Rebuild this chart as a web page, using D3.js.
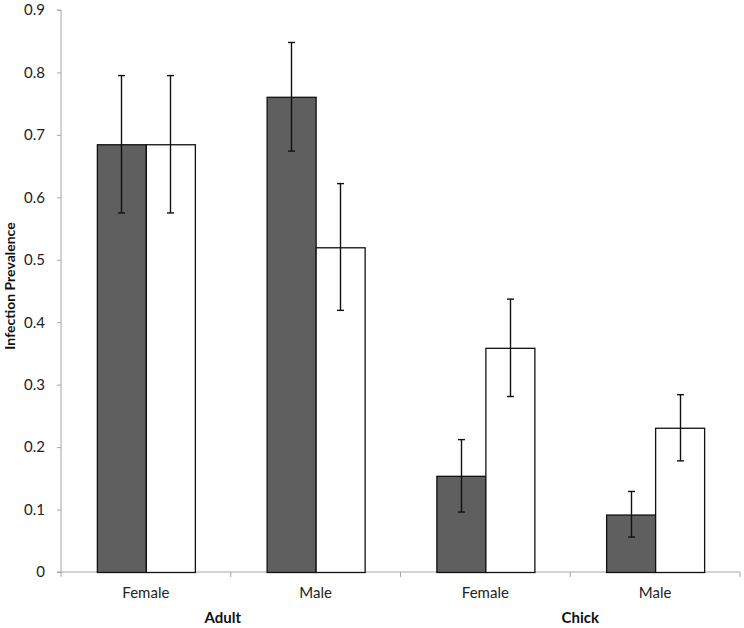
<!DOCTYPE html>
<html><head><meta charset="utf-8">
<script src="https://cdn.jsdelivr.net/npm/d3@7"></script>
<style>body{margin:0;background:#fff}svg{display:block}text{font-family:Lato,"Open Sans",sans-serif}</style>
</head><body><svg id="c" width="744" height="628"></svg>
<script>
const categories = ["Female","Male","Female","Male"];
const groups = [{name:"Adult", from:0, to:1},{name:"Chick", from:2, to:3}];
const darkValues = [0.685, 0.761, 0.154, 0.092];
const darkLow    = [0.575, 0.674, 0.096, 0.056];
const darkHigh   = [0.795, 0.848, 0.212, 0.129];
const whiteValues = [0.685, 0.520, 0.359, 0.231];
const whiteLow    = [0.575, 0.419, 0.281, 0.178];
const whiteHigh   = [0.795, 0.622, 0.437, 0.284];
const yTicks = [0,0.1,0.2,0.3,0.4,0.5,0.6,0.7,0.8,0.9];

const svg = d3.select("#c");
const L=61, R=740, T=10, B=572;
const x = d3.scaleBand().domain(d3.range(categories.length)).range([L,R]).paddingInner(0).paddingOuter(0);
const y = d3.scaleLinear().domain([0,0.9]).range([B,T]);
const barW = 49;
const series = [
  {vals:darkValues, lo:darkLow, hi:darkHigh, fill:"#5f5f5f", off:-barW},
  {vals:whiteValues, lo:whiteLow, hi:whiteHigh, fill:"#ffffff", off:0}
];

// axes
const ya = svg.append("g").attr("transform",`translate(${L},0)`)
  .call(d3.axisLeft(y).tickValues(yTicks).tickSize(4).tickPadding(12).tickFormat(d=>d===0?"0":d3.format(".1f")(d)));
ya.select(".domain").attr("stroke","#a6a6a6").attr("d",`M-4,${T}H0V${B}H-4`);
ya.selectAll(".tick line").attr("stroke","#a6a6a6");
ya.selectAll(".tick text").attr("font-size",15).attr("fill","#222").attr("font-family","Lato,sans-serif");

const xa = svg.append("g").attr("transform",`translate(0,${B})`);
xa.append("line").attr("x1",L).attr("x2",R).attr("stroke","#a6a6a6");
const bounds = d3.range(categories.length+1).map(i=> i<categories.length ? x(i) : x(categories.length-1)+x.bandwidth());
xa.selectAll(".tk").data(bounds).join("line").attr("x1",d=>d).attr("x2",d=>d).attr("y1",0).attr("y2",5).attr("stroke","#a6a6a6");
xa.selectAll(".cl").data(categories).join("text")
  .attr("x",(d,i)=>x(i)+x.bandwidth()/2).attr("y",26).attr("text-anchor","middle")
  .attr("font-size",15).attr("fill","#222").text(d=>d);

// group labels
const gOff = [-8, 10];
svg.selectAll(".gl").data(groups).join("text")
  .attr("x",(g,i)=>(x(g.from)+x(g.to)+x.bandwidth())/2+gOff[i]).attr("y",623)
  .attr("text-anchor","middle").attr("font-size",15).attr("font-weight","bold").attr("fill","#111").text(g=>g.name);

// y label
svg.append("text").attr("transform",`translate(15,286) rotate(-90)`)
  .attr("text-anchor","middle").attr("font-size",14).attr("font-weight","bold").attr("fill","#111").text("Infection Prevalence");

// bars
series.forEach(s=>{
  const g = svg.append("g");
  g.selectAll("rect").data(s.vals).join("rect")
    .attr("x",(d,i)=>x(i)+x.bandwidth()/2+s.off+0.5)
    .attr("y",d=>y(d)+0.5).attr("width",barW).attr("height",d=>B-y(d))
    .attr("fill",s.fill).attr("stroke","#111").attr("stroke-width",1.3);
});
// error bars
series.forEach(s=>{
  const g = svg.append("g").attr("stroke","#111").attr("stroke-width",1.4);
  s.vals.forEach((v,i)=>{
    const cx = Math.round(x(i)+x.bandwidth()/2+s.off+barW/2)+0.5;
    g.append("line").attr("x1",cx).attr("x2",cx).attr("y1",y(s.hi[i])).attr("y2",y(s.lo[i]));
    g.append("line").attr("x1",cx-3.5).attr("x2",cx+3.5).attr("y1",y(s.hi[i])).attr("y2",y(s.hi[i]));
    g.append("line").attr("x1",cx-3.5).attr("x2",cx+3.5).attr("y1",y(s.lo[i])).attr("y2",y(s.lo[i]));
  });
});
</script></body></html>
